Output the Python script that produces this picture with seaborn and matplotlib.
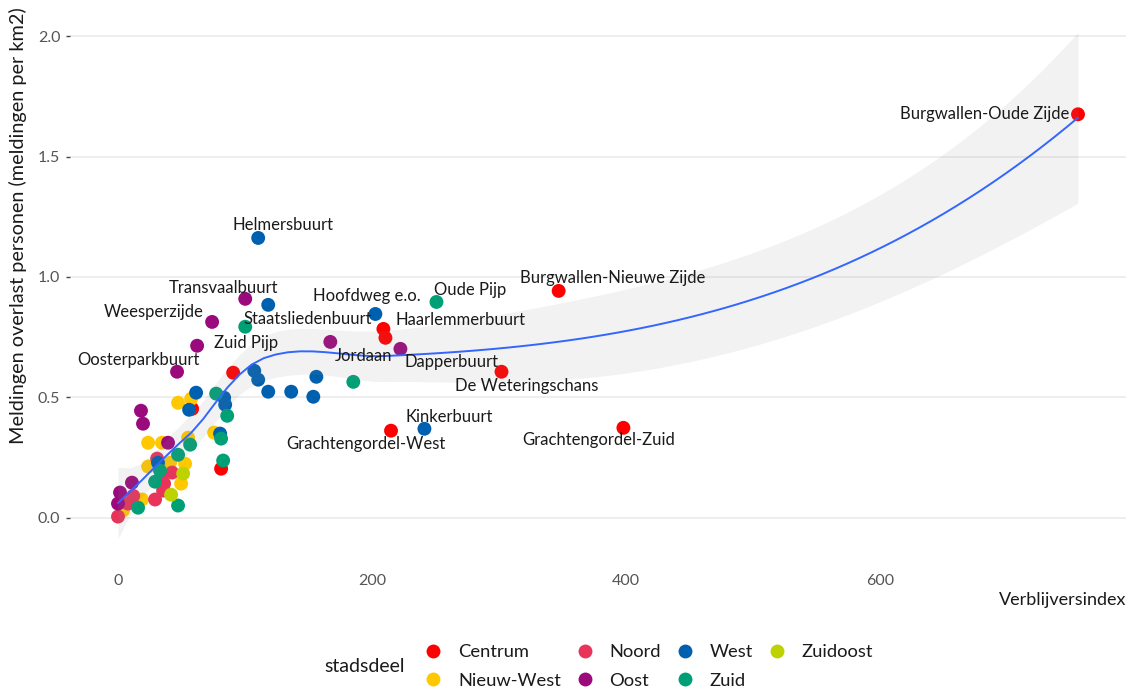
import numpy as np
import pandas as pd
import matplotlib
matplotlib.use("Agg")
import matplotlib.pyplot as plt
from matplotlib.lines import Line2D
import seaborn as sns

# --- data: verblijversindex (x) vs meldingen overlast personen per km2 (y), per wijk ---
stadsdelen = ["Centrum", "Nieuw-West", "Noord", "Oost", "West", "Zuid", "Zuidoost"]

centrum_x = [756, 347, 209, 210.6, 302, 215, 398, 90.7, 58.4, 81.2]
centrum_y = [1.676, 0.942, 0.784, 0.747, 0.606, 0.361, 0.373, 0.602, 0.452, 0.203]
centrum_wijk = ["Burgwallen-Oude Zijde", "Burgwallen-Nieuwe Zijde", "Haarlemmerbuurt",
                "Jordaan", "De Weteringschans", "Grachtengordel-West",
                "Grachtengordel-Zuid", "", "", ""]

nieuwwest_x = [47.3, 57.6, 75.7, 55.2, 23.7, 34.7, 23.7, 41.0, 52.8, 49.7, 18.9, 3.9]
nieuwwest_y = [0.477, 0.494, 0.353, 0.332, 0.311, 0.311, 0.212, 0.228, 0.224, 0.141, 0.075, 0.029]

noord_x = [30.8, 42.6, 36.3, 35.5, 29.2, 7.9, 0.0, 34.7, 12.0]
noord_y = [0.245, 0.187, 0.141, 0.112, 0.075, 0.058, 0.004, 0.174, 0.090]

oost_x = [100.2, 74.1, 62.3, 46.5, 167.2, 222.4, 18.1, 19.7, 39.4, 11.0, 1.6, 0.0]
oost_y = [0.909, 0.813, 0.714, 0.606, 0.730, 0.701, 0.444, 0.390, 0.311, 0.145, 0.104, 0.058]
oost_wijk = ["Transvaalbuurt", "Weesperzijde", "", "Oosterparkbuurt", "", "Dapperbuurt",
             "", "", "", "", "", ""]

west_x = [110.4, 118.3, 202.7, 241.3, 107.3, 110.4, 118.3, 136.4, 156.2, 153.8,
          61.5, 83.6, 84.4, 80.4, 56.0, 31.5]
west_y = [1.162, 0.884, 0.846, 0.369, 0.610, 0.573, 0.523, 0.523, 0.585, 0.502,
          0.519, 0.498, 0.469, 0.349, 0.448, 0.228]
west_wijk = ["Helmersbuurt", "Staatsliedenbuurt", "Hoofdweg e.o.", "Kinkerbuurt",
             "", "", "", "", "", "", "", "", "", "", "", ""]

zuid_x = [250.8, 100.2, 185.3, 77.3, 86.0, 81.2, 82.8, 56.8, 47.3, 33.1, 29.2, 47.3, 15.8]
zuid_y = [0.896, 0.793, 0.564, 0.515, 0.423, 0.328, 0.237, 0.303, 0.261, 0.195, 0.149, 0.050, 0.041]
zuid_wijk = ["Oude Pijp", "Zuid Pijp", "", "", "", "", "", "", "", "", "", "", ""]

zuidoost_x = [51.3, 41.8]
zuidoost_y = [0.183, 0.095]

# --- styling ---
palette = {
    "Centrum": "#FF0000",
    "Nieuw-West": "#FFC800",
    "Noord": "#E8345A",
    "Oost": "#9B0A7D",
    "West": "#0060B0",
    "Zuid": "#00A077",
    "Zuidoost": "#BED200",
}

# label placement relative to its point (pixels; ha)
label_offsets = {
    "Burgwallen-Oude Zijde": (-9, 0, "right"),
    "Burgwallen-Nieuwe Zijde": (54, 13, "center"),
    "Haarlemmerbuurt": (77, 9, "center"),
    "Jordaan": (-22, -18, "center"),
    "De Weteringschans": (25, -14, "center"),
    "Grachtengordel-West": (-25, -13, "center"),
    "Grachtengordel-Zuid": (-25, -12, "center"),
    "Transvaalbuurt": (-22, 11, "center"),
    "Weesperzijde": (-58, 10, "center"),
    "Oosterparkbuurt": (-39, 12, "center"),
    "Dapperbuurt": (51, -13, "center"),
    "Helmersbuurt": (25, 13, "center"),
    "Staatsliedenbuurt": (40, -14, "center"),
    "Hoofdweg e.o.": (-9, 18, "center"),
    "Kinkerbuurt": (25, 12, "center"),
    "Oude Pijp": (34, 12, "center"),
    "Zuid Pijp": (1, -16, "center"),
}


def build_frame():
    parts = []
    groups = [
        ("Centrum", centrum_x, centrum_y, centrum_wijk),
        ("Nieuw-West", nieuwwest_x, nieuwwest_y, None),
        ("Noord", noord_x, noord_y, None),
        ("Oost", oost_x, oost_y, oost_wijk),
        ("West", west_x, west_y, west_wijk),
        ("Zuid", zuid_x, zuid_y, zuid_wijk),
        ("Zuidoost", zuidoost_x, zuidoost_y, None),
    ]
    for name, xs, ys, wijk in groups:
        parts.append(pd.DataFrame({
            "verblijversindex": xs,
            "meldingen": ys,
            "stadsdeel": name,
            "wijk": wijk if wijk is not None else [""] * len(xs),
        }))
    return pd.concat(parts, ignore_index=True)


def local_rows(x, x0, span):
    """Operator rows (value, slope) of a tricube-weighted local quadratic at x0."""
    n = len(x)
    q = int(np.floor(n * span))
    d = np.abs(x - x0)
    h = np.sort(d)[q - 1]
    w = np.clip(1 - (d / h) ** 3, 0, None) ** 3
    X = np.column_stack([np.ones(n), x - x0, (x - x0) ** 2])
    XtW = X.T * w
    B = np.linalg.solve(XtW @ X, XtW)
    return B[0], B[1]


def kd_vertices(x, span, cell=0.2):
    """Cell boundaries of the k-d tree used for loess interpolation."""
    n = len(x)
    fc = int(np.floor(n * span * cell))
    xsorted = np.sort(x)
    margin = 0.005 * (xsorted[-1] - xsorted[0])
    verts = {xsorted[0] - margin, xsorted[-1] + margin}

    def split(pts):
        if len(pts) <= fc:
            return
        m = (len(pts) - 1) // 2
        v = (pts[m] + pts[m + 1]) / 2
        verts.add(v)
        split(pts[:m + 1])
        split(pts[m + 1:])

    split(xsorted)
    return np.array(sorted(verts))


def loess_operator(x, x_eval, span=0.75):
    """Smoother rows via cubic Hermite interpolation between k-d tree vertices."""
    verts = kd_vertices(x, span)
    vals, slopes = zip(*[local_rows(x, v, span) for v in verts])
    vals, slopes = np.array(vals), np.array(slopes)
    L = np.zeros((len(x_eval), len(x)))
    for i, xe in enumerate(x_eval):
        j = np.clip(np.searchsorted(verts, xe) - 1, 0, len(verts) - 2)
        v0, v1 = verts[j], verts[j + 1]
        hgt = v1 - v0
        t = (xe - v0) / hgt
        phi0 = (1 - t) ** 2 * (1 + 2 * t)
        phi1 = t ** 2 * (3 - 2 * t)
        psi0 = t * (1 - t) ** 2
        psi1 = -t ** 2 * (1 - t)
        L[i] = (phi0 * vals[j] + phi1 * vals[j + 1]
                + hgt * (psi0 * slopes[j] + psi1 * slopes[j + 1]))
    return L


def t_quantile_975(df):
    # Cornish-Fisher expansion of the Student t quantile
    z = 1.959963984540054
    g1 = (z ** 3 + z) / 4
    g2 = (5 * z ** 5 + 16 * z ** 3 + 3 * z) / 96
    g3 = (3 * z ** 7 + 19 * z ** 5 + 17 * z ** 3 - 15 * z) / 384
    return z + g1 / df + g2 / df ** 2 + g3 / df ** 3


df = build_frame()
x = df["verblijversindex"].to_numpy(float)
y = df["meldingen"].to_numpy(float)

# loess fit with 95% confidence band
xs = np.linspace(x.min(), x.max(), 80)
L_fit = loess_operator(x, x)
L_grid = loess_operator(x, xs)
resid = y - L_fit @ y
R = np.eye(len(x)) - L_fit
RtR = R.T @ R
one_delta = np.trace(RtR)
two_delta = np.trace(RtR @ RtR)
sigma = np.sqrt(np.sum(resid ** 2) / one_delta)
fit = L_grid @ y
se = sigma * np.sqrt(np.sum(L_grid ** 2, axis=1))
tq = t_quantile_975(one_delta ** 2 / two_delta)
lo, hi = fit - tq * se, fit + tq * se

# --- figure ---
sns.set_theme(style="white")
plt.rcParams["font.family"] = ["Lato", "DejaVu Sans"]

W, H = 1133, 689
fig = plt.figure(figsize=(W / 100, H / 100), dpi=100)
ax = fig.add_axes([70 / W, 125 / H, 1056 / W, 557 / H])

sns.scatterplot(data=df, x="verblijversindex", y="meldingen", hue="stadsdeel",
                hue_order=stadsdelen, palette=palette, s=100, linewidth=0,
                legend=False, ax=ax, zorder=3)

ax.fill_between(xs, lo, hi, color="#8a8a8a", alpha=0.11, linewidth=0, zorder=3.5)
ax.plot(xs, fit, color="#3366FF", linewidth=1.4, zorder=4)

for _, row in df[df["wijk"] != ""].iterrows():
    dx, dy, ha = label_offsets[row["wijk"]]
    ax.annotate(row["wijk"], (row["verblijversindex"], row["meldingen"]),
                xytext=(dx, dy), textcoords="offset pixels", ha=ha, va="center",
                fontsize=12, color="#1a1a1a", zorder=5)

# axis limits with 5% expansion
xr = x.max() - x.min()
ax.set_xlim(x.min() - 0.05 * xr, x.max() + 0.05 * xr)
ylo, yhi = min(y.min(), lo.min()), max(y.max(), hi.max())
yr = yhi - ylo
ax.set_ylim(ylo - 0.05 * yr, yhi + 0.05 * yr)

ax.set_xticks([0, 200, 400, 600])
ax.set_xticklabels(["0", "200", "400", "600"])
ax.set_yticks([0, 0.5, 1.0, 1.5, 2.0])
ax.set_yticklabels(["0.0", "0.5", "1.0", "1.5", "2.0"])
ax.tick_params(axis="x", length=0, labelsize=11.5, labelcolor="#555555", pad=7)
ax.tick_params(axis="y", length=3, width=1, color="#444444", labelsize=11.5,
               labelcolor="#555555", pad=4, left=True)
ax.yaxis.grid(True, color="#EBEBEB", linewidth=1.2, zorder=0)
ax.xaxis.grid(False)
ax.set_axisbelow(True)
for sp in ax.spines.values():
    sp.set_visible(False)

ax.set_xlabel("Verblijversindex", fontsize=13, color="#1a1a1a", loc="right", labelpad=3)
ax.set_ylabel("Meldingen overlast personen (meldingen per km2)", fontsize=14.3,
              color="#1a1a1a", loc="top", labelpad=8)

# legend at the bottom
handles = [Line2D([], [], marker="o", linestyle="", markersize=10,
                  markerfacecolor=palette[s], markeredgewidth=0) for s in stadsdelen]
leg = fig.legend(handles, stadsdelen, ncol=4, loc="upper left",
                 bbox_to_anchor=(424 / W, 1 - 644 / H), frameon=False,
                 fontsize=13.2, handlelength=1.0, handletextpad=0.85,
                 columnspacing=0.8, labelspacing=0.7, borderpad=0, borderaxespad=0)
for t in leg.get_texts():
    t.set_color("#1a1a1a")
fig.text(324 / W, 1 - 666 / H, "stadsdeel", fontsize=14, color="#1a1a1a",
         ha="left", va="center")

fig.savefig("out.png", dpi=100)
